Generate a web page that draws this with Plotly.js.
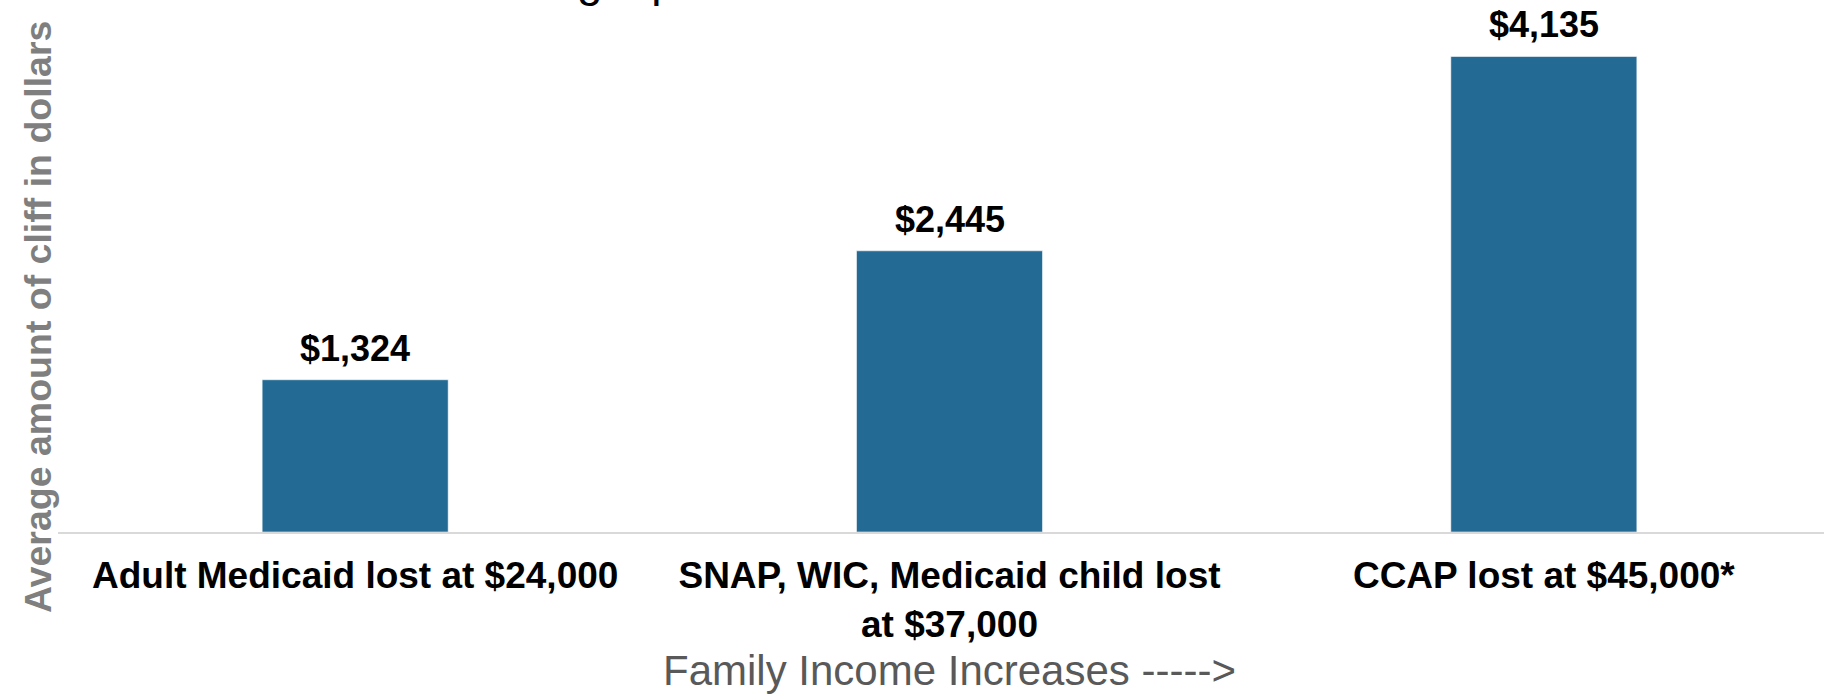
<!DOCTYPE html>
<html>
<head>
<meta charset="utf-8">
<script src="https://cdn.plot.ly/plotly-3.0.1.min.js"></script>
<style>
  html, body { margin: 0; padding: 0; overflow: hidden; background: #ffffff; }
  #chart { width: 1841px; height: 694px; }
</style>
</head>
<body>
<div id="chart"></div>
<script>
// ---- data ----
const categories = ["Adult Medicaid lost at $24,000", "SNAP, WIC, Medicaid child lost at $37,000", "CCAP lost at $45,000*"];
const tickLabels = ["Adult Medicaid lost at $24,000", "SNAP, WIC, Medicaid child lost<br>at $37,000", "CCAP lost at $45,000*"];
const cliffAmounts = [1324, 2445, 4135];
const valueLabels = ["$1,324", "$2,445", "$4,135"];
const chartTitle = "Cliff amounts for a single parent";
const xTitle = "Family Income Increases ----->";
const yTitle = "Average amount of cliff in dollars";

const FONT = "Liberation Sans, Arial, Helvetica, sans-serif";

const trace = {
  type: "bar",
  x: categories,
  y: cliffAmounts,
  marker: { color: "#236A94", line: { color: "rgba(255,255,255,0.55)", width: 1 } },
  hoverinfo: "none"
};

const labelAnnotations = categories.map((c, i) => ({
  x: c, y: cliffAmounts[i], xref: "x", yref: "y",
  text: valueLabels[i], showarrow: false,
  xanchor: "center", yanchor: "bottom", yshift: 9,
  font: { family: FONT, size: 36, color: "#000000", weight: "bold" }
}));

const layout = {
  width: 1841,
  height: 694,
  margin: { l: 58, r: 0, t: 0, b: 162, pad: 0 },
  paper_bgcolor: "#ffffff",
  plot_bgcolor: "#ffffff",
  showlegend: false,
  bargap: 0.687,
  xaxis: {
    type: "category",
    tickmode: "array",
    tickvals: categories,
    ticktext: tickLabels,
    ticks: "",
    showgrid: false,
    zeroline: false,
    showline: true,
    linecolor: "#d9d9d9",
    linewidth: 2,
    tickfont: { family: FONT, size: 37, color: "#000000", weight: "bold" },
    ticklabelstandoff: 10,
    range: [-0.5, 2.5],
    title: { text: xTitle, font: { family: FONT, size: 42, color: "#595959" }, standoff: 15 },
    fixedrange: true
  },
  yaxis: {
    range: [0, 4626],
    showticklabels: false,
    ticks: "",
    showgrid: false,
    zeroline: false,
    showline: false,
    fixedrange: true
  },
  annotations: labelAnnotations.concat([
    {
      xref: "paper", yref: "paper", x: 0, y: 0.404, xshift: -20,
      xanchor: "center", yanchor: "middle", textangle: -90,
      text: yTitle, showarrow: false,
      font: { family: FONT, size: 37.5, color: "#7f7f7f", weight: "bold" }
    },
    {
      xref: "paper", yref: "paper", x: 0, y: 1, xshift: 73, yshift: -8.5,
      xanchor: "left", yanchor: "bottom",
      text: chartTitle, showarrow: false,
      font: { family: FONT, size: 46, color: "#000000" }
    }
  ])
};

Plotly.newPlot("chart", [trace], layout, { displayModeBar: false, staticPlot: true });
</script>
</body>
</html>
